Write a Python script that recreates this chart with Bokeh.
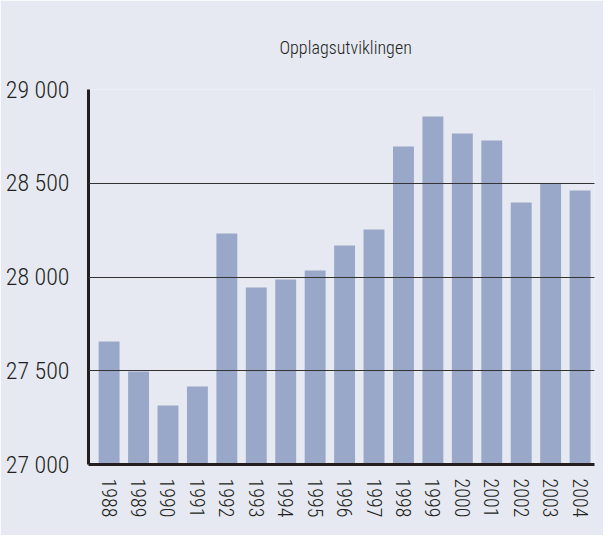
from bokeh.plotting import figure
from bokeh.models import FixedTicker, Range1d
from bokeh.embed import file_html
from bokeh.resources import INLINE

years = [1988, 1989, 1990, 1991, 1992, 1993, 1994, 1995, 1996,
         1997, 1998, 1999, 2000, 2001, 2002, 2003, 2004]
circulation = [27656, 27496, 27315, 27416, 28232, 27944, 27987, 28035, 28168,
               28253, 28696, 28856, 28765, 28728, 28397, 28498, 28461]
y_ticks = [27000, 27500, 28000, 28500, 29000]
y_tick_labels = ["27 000", "27 500", "28 000", "28 500", "29 000"]
title_text = "Opplagsutviklingen"

FONT = "Roboto Condensed Light, Roboto Condensed, Roboto, sans-serif"
BG = "#e6e9f1"
INK = "#231f20"

p = figure(width=603, height=535, output_backend="svg", toolbar_location=None,
           x_range=Range1d(1987.30, 2004.49), y_range=Range1d(27000, 29000),
           min_border_left=88, min_border_right=9, min_border_top=89, min_border_bottom=71,
           background_fill_color=BG, border_fill_color=BG, title=title_text)
p.outline_line_color = None

p.title.text_font = FONT
p.title.text_font_size = "18px"
p.title.text_font_style = "normal"
p.title.text_color = INK
p.title.align = "left"
p.title.offset = 191
p.title.standoff = 63

p.vbar(x=years, top=circulation, bottom=27000, width=0.71,
       fill_color="#99a7c8", line_color=None)

p.xgrid.grid_line_color = None
p.ygrid.ticker = FixedTicker(ticks=y_ticks)
p.ygrid.grid_line_color = "#333333"
p.ygrid.grid_line_width = 1
p.ygrid.level = "overlay"

p.yaxis.ticker = FixedTicker(ticks=y_ticks)
p.yaxis.major_label_overrides = {t: l for t, l in zip(y_ticks, y_tick_labels)}
p.xaxis.ticker = FixedTicker(ticks=years)
p.xaxis.major_label_orientation = "vertical"

for ax in (p.xaxis, p.yaxis):
    ax.axis_line_width = 3
    ax.axis_line_color = INK
    ax.major_tick_line_color = None
    ax.minor_tick_line_color = None
    ax.major_label_text_font = FONT
    ax.major_label_text_color = INK

p.yaxis.major_label_text_font_size = "24px"
p.yaxis.major_label_standoff = 13
p.xaxis.major_label_text_font_size = "20px"
p.xaxis.major_label_standoff = 8

open("out.html", "w").write(file_html(p, INLINE))
